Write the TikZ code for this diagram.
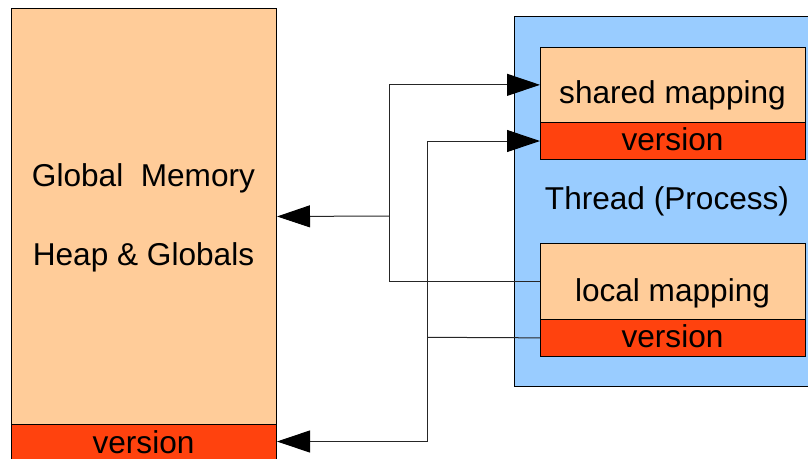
\documentclass[tikz,border=0pt]{standalone}
\usepackage{fontspec}
\setmainfont{Liberation Sans}
\usetikzlibrary{arrows.meta}
\definecolor{peach}{RGB}{255,204,153}
\definecolor{vred}{RGB}{255,66,14}
\definecolor{tblue}{RGB}{153,204,255}
\begin{document}
\begin{tikzpicture}[x=1pt,y=-1pt,
  box/.style={draw=black,line width=1pt,inner sep=0pt,anchor=north west,rectangle},
  mapbox/.style={box,fill=peach,minimum width=265pt},
  verbox/.style={box,fill=vred,minimum width=265pt},
  lbl/.style={anchor=base,inner sep=0pt,font=\fontsize{31.6}{38}\selectfont},
  conn/.style={draw=black!85,line width=1pt},
  arr/.style={conn,-{Triangle[length=33pt,width=22pt,color=black]}}]
\useasboundingbox (0,0) rectangle (808,458);
% thread box
\node[box,fill=tblue,minimum width=320pt,minimum height=370pt] (thread) at (513.5,16) {};
% global memory
\node[mapbox,minimum height=416pt] (global) at (11,8) {};
\node[verbox,minimum height=44pt] (gver) at (11,424) {};
% shared / local mapping
\node[mapbox,minimum height=75.3pt] (shared) at (540,46.7) {};
\node[verbox,minimum height=37pt] (sver) at (540,122) {};
\node[mapbox,minimum height=75.7pt] (local) at (540,243) {};
\node[verbox,minimum height=37.3pt] (lver) at (540,318.7) {};
% texts
\node[lbl] (tglob) at (143.5,186) {Global~~Memory};
\node[lbl] (theap) at (143.5,265) {Heap \& Globals};
\node[lbl] (tgver) at (143.5,453) {version};
\node[lbl] (tthread) at (667,209.3) {Thread (Process)};
\node[lbl] (tshared) at (672.5,103.3) {shared mapping};
\node[lbl] (tsver) at (672.5,150) {version};
\node[lbl] (tlocal) at (672.5,301) {local mapping};
\node[lbl] (tlver) at (672.5,347.7) {version};
% connectors
\coordinate (j1) at (389,216);
\coordinate (j2) at (427,337.3);
\coordinate (gvin) at ([yshift=5pt]gver.east);
\draw[conn] (j1) |- (local.west);
\draw[arr] (j1) |- (shared.west);
\draw[arr] (j1) -- (global.east);
\draw[conn] (j2) -- (lver.west);
\draw[arr] (j2) |- (sver.west);
\draw[arr] (j2) |- (gvin);
\end{tikzpicture}
\end{document}
